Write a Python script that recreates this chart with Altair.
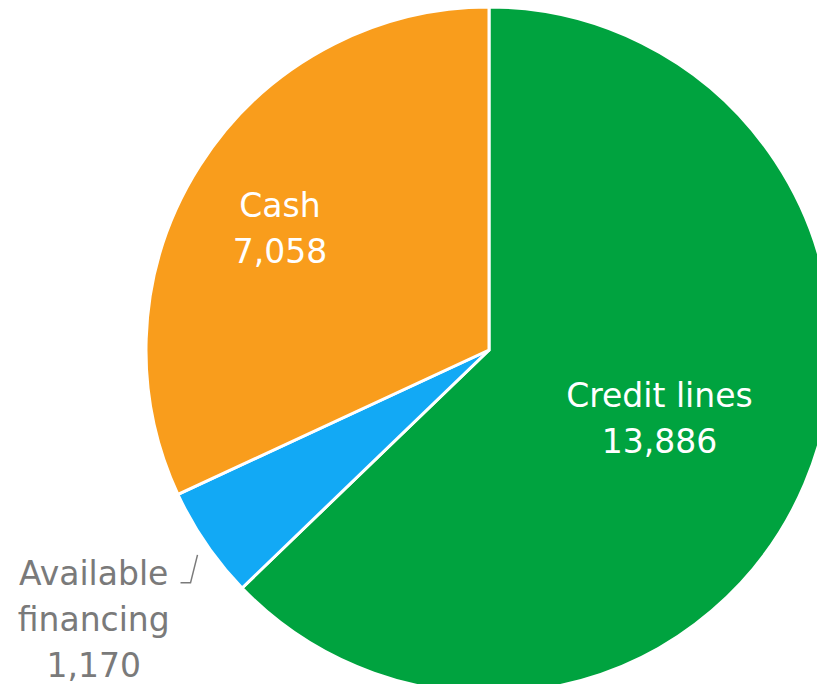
import altair as alt
import pandas as pd
import numpy as np

categories = ["Credit lines", "Available financing", "Cash"]
values = [13886, 1170, 7058]
label_names = ["Credit lines", "Available\nfinancing", "Cash"]
colors = ["#00A33F", "#12A9F5", "#F99D1C"]

df = pd.DataFrame({
    "category": categories,
    "value": values,
    "order": list(range(len(categories))),
    "label": [f"{n}\n{v:,}" for n, v in zip(label_names, values)],
})

CX, CY, R = 481, 342, 343
FONT = "DejaVu Sans"

base = alt.Chart(df).encode(
    theta=alt.Theta("value:Q", stack=True),
    order=alt.Order("order:Q"),
)

arc = base.mark_arc(radius=R, stroke="white", strokeWidth=3).encode(
    x=alt.value(CX), y=alt.value(CY),
    color=alt.Color("category:N", scale=alt.Scale(domain=categories, range=colors), legend=None),
)

def label_layer(cat, radius, color, dx, dy):
    return base.mark_text(
        radius=radius, font=FONT, fontSize=33, fontWeight="normal", lineHeight=46, lineBreak="\n",
        align="center", baseline="middle", color=color, dx=dx, dy=dy,
    ).encode(
        x=alt.value(CX), y=alt.value(CY),
        text=alt.condition(alt.datum.category == cat, "label:N", alt.value("")),
    )

t1 = label_layer("Credit lines", 183, "white", 2, -25)
t2 = label_layer("Cash", 242, "white", -5, -13)
t3 = label_layer("Available financing", 478, "#7a7a7a", -1, -45)

# leader line for the small slice, derived from its mid angle
total = sum(values)
mid_frac = (values[0] + values[1] / 2) / total
a = 2 * np.pi * mid_frac
sx = CX + 357 * np.sin(a) + 3
sy = CY - 357 * np.cos(a) + 3
leader = pd.DataFrame({
    "x": [sx, sx - 7, sx - 17],
    "y": [sy, sy + 28, sy + 28],
    "i": [0, 1, 2],
})
line = alt.Chart(leader).mark_line(color="#7a7a7a", strokeWidth=1.5).encode(
    x=alt.X("x:Q", scale=None, axis=None),
    y=alt.Y("y:Q", scale=None, axis=None),
    order="i:Q",
)

chart = alt.layer(arc, t1, t2, t3, line).properties(
    width=809, height=676,
    autosize=alt.AutoSizeParams(type="none"),
    padding=0,
).configure_view(stroke=None)

chart.save("out.html", embed_options={"renderer": "svg", "actions": False})
